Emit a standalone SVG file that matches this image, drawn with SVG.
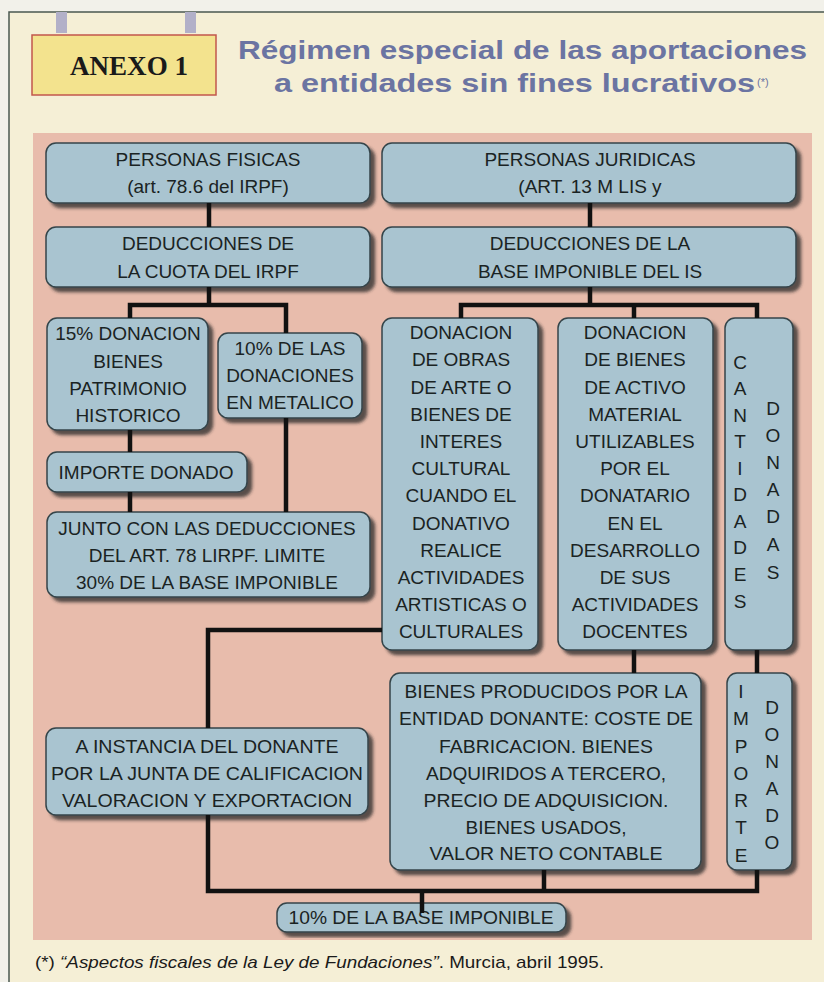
<svg xmlns="http://www.w3.org/2000/svg" width="824" height="982" viewBox="0 0 824 982">
<style>
.node rect.box{fill:#a9c4d0;stroke:#34444a;stroke-width:1.5;filter:url(#sh)}
.t{font-family:"Liberation Sans",Arial,sans-serif;font-size:19px;fill:#1a2323;text-anchor:middle}
.v{font-family:"Liberation Sans",Arial,sans-serif;font-size:19px;fill:#1a2323;text-anchor:middle}
.c{stroke:#111;stroke-width:4.5;fill:none;stroke-linecap:butt;stroke-linejoin:miter}
</style>
<defs>
<filter id="sh" x="-10%" y="-10%" width="130%" height="130%">
<feDropShadow dx="4.5" dy="4.5" stdDeviation="1.5" flood-color="#2a2a2a" flood-opacity="0.75"/>
</filter>
</defs>
<rect x="0" y="0" width="824" height="982" fill="#f2f1ea"/>
<rect x="9" y="12" width="830" height="990" fill="#f5efd6" stroke="#4a5850" stroke-width="1.5"/>
<rect x="56" y="12" width="11" height="21" fill="#b2b0c8"/>
<rect x="185" y="12" width="11" height="21" fill="#b2b0c8"/>
<g id="anexo">
<rect x="32" y="35" width="184" height="60" fill="#f3e38e" stroke="#c2574c" stroke-width="1.5"/>
<text x="129" y="75" font-family="Liberation Serif,'Times New Roman',serif" font-weight="bold" font-size="27" fill="#1a1a1a" text-anchor="middle" textLength="118" lengthAdjust="spacingAndGlyphs">ANEXO 1</text>
</g>
<g id="title" font-family="Liberation Sans,Arial,sans-serif" font-weight="bold" fill="#6b74a2">
<text x="238" y="59" font-size="26" textLength="569" lengthAdjust="spacingAndGlyphs">Régimen especial de las aportaciones</text>
<text x="274" y="92" font-size="26" textLength="481" lengthAdjust="spacingAndGlyphs">a entidades sin fines lucrativos</text>
<text x="757" y="86" font-size="11" font-weight="normal">(*)</text>
</g>
<rect x="33" y="133" width="779" height="807" fill="#e8bcac"/>
<g id="n1" class="node"><rect class="box" x="46" y="143" width="324" height="60" rx="10"/>
<text class="t" x="208" y="166">PERSONAS FISICAS</text><text class="t" x="208" y="193">(art. 78.6 del IRPF)</text></g>
<g id="n2" class="node"><rect class="box" x="382" y="143" width="414" height="60" rx="10"/>
<text class="t" x="590" y="166">PERSONAS JURIDICAS</text><text class="t" x="590" y="193">(ART. 13 M LIS y</text></g>
<g id="n3" class="node"><rect class="box" x="46" y="227" width="324" height="60" rx="10"/>
<text class="t" x="208" y="250">DEDUCCIONES DE</text><text class="t" x="208" y="278">LA CUOTA DEL IRPF</text></g>
<g id="n4" class="node"><rect class="box" x="382" y="227" width="414" height="60" rx="10"/>
<text class="t" x="590" y="250">DEDUCCIONES DE LA</text><text class="t" x="590" y="278">BASE IMPONIBLE DEL IS</text></g>
<g id="n5" class="node"><rect class="box" x="47" y="318" width="161" height="112" rx="10"/>
<text class="t" x="128" y="340">15% DONACION</text><text class="t" x="128" y="368">BIENES</text><text class="t" x="128" y="395">PATRIMONIO</text><text class="t" x="128" y="422">HISTORICO</text></g>
<g id="n6" class="node"><rect class="box" x="218" y="333" width="144" height="85" rx="10"/>
<text class="t" x="290" y="355">10% DE LAS</text><text class="t" x="290" y="382">DONACIONES</text><text class="t" x="290" y="409">EN METALICO</text></g>
<g id="n7" class="node"><rect class="box" x="47" y="452" width="200" height="40" rx="10"/>
<text class="t" x="146" y="479">IMPORTE DONADO</text></g>
<g id="n8" class="node"><rect class="box" x="47" y="512" width="323" height="85" rx="10"/>
<text class="t" x="207" y="535">JUNTO CON LAS DEDUCCIONES</text><text class="t" x="207" y="562">DEL ART. 78 LIRPF. LIMITE</text><text class="t" x="207" y="589">30% DE LA BASE IMPONIBLE</text></g>
<g id="n9" class="node"><rect class="box" x="382" y="318" width="156" height="332" rx="10"/>
<text class="t" x="461" y="339">DONACION</text><text class="t" x="461" y="366">DE OBRAS</text><text class="t" x="461" y="394">DE ARTE O</text><text class="t" x="461" y="421">BIENES DE</text><text class="t" x="461" y="448">INTERES</text><text class="t" x="461" y="475">CULTURAL</text><text class="t" x="461" y="502">CUANDO EL</text><text class="t" x="461" y="530">DONATIVO</text><text class="t" x="461" y="557">REALICE</text><text class="t" x="461" y="584">ACTIVIDADES</text><text class="t" x="461" y="611">ARTISTICAS O</text><text class="t" x="461" y="638">CULTURALES</text></g>
<g id="n10" class="node"><rect class="box" x="558" y="318" width="155" height="332" rx="10"/>
<text class="t" x="635" y="339">DONACION</text><text class="t" x="635" y="366">DE BIENES</text><text class="t" x="635" y="394">DE ACTIVO</text><text class="t" x="635" y="421">MATERIAL</text><text class="t" x="635" y="448">UTILIZABLES</text><text class="t" x="635" y="475">POR EL</text><text class="t" x="635" y="502">DONATARIO</text><text class="t" x="635" y="530">EN EL</text><text class="t" x="635" y="557">DESARROLLO</text><text class="t" x="635" y="584">DE SUS</text><text class="t" x="635" y="611">ACTIVIDADES</text><text class="t" x="635" y="638">DOCENTES</text></g>
<g id="n11" class="node"><rect class="box" x="725" y="318" width="68" height="332" rx="10"/>
<text class="v" x="740" y="369">C</text><text class="v" x="740" y="395">A</text><text class="v" x="740" y="422">N</text><text class="v" x="740" y="448">T</text><text class="v" x="740" y="475">I</text><text class="v" x="740" y="501">D</text><text class="v" x="740" y="528">A</text><text class="v" x="740" y="554">D</text><text class="v" x="740" y="581">E</text><text class="v" x="740" y="608">S</text>
<text class="v" x="773" y="415">D</text><text class="v" x="773" y="442">O</text><text class="v" x="773" y="469">N</text><text class="v" x="773" y="496">A</text><text class="v" x="773" y="523">D</text><text class="v" x="773" y="551">A</text><text class="v" x="773" y="579">S</text></g>
<g id="n12" class="node"><rect class="box" x="46" y="728" width="322" height="87" rx="10"/>
<text class="t" x="207" y="753" textLength="263" lengthAdjust="spacingAndGlyphs">A INSTANCIA DEL DONANTE</text><text class="t" x="207" y="780" textLength="312" lengthAdjust="spacingAndGlyphs">POR LA JUNTA DE CALIFICACION</text><text class="t" x="207" y="807" textLength="290" lengthAdjust="spacingAndGlyphs">VALORACION Y EXPORTACION</text></g>
<g id="n13" class="node"><rect class="box" x="390" y="673" width="311" height="197" rx="10"/>
<text class="t" x="546" y="698" textLength="283" lengthAdjust="spacingAndGlyphs">BIENES PRODUCIDOS POR LA</text><text class="t" x="546" y="725" textLength="294" lengthAdjust="spacingAndGlyphs">ENTIDAD DONANTE: COSTE DE</text><text class="t" x="546" y="753" textLength="214" lengthAdjust="spacingAndGlyphs">FABRICACION. BIENES</text><text class="t" x="546" y="780" textLength="240" lengthAdjust="spacingAndGlyphs">ADQUIRIDOS A TERCERO,</text><text class="t" x="546" y="807" textLength="245" lengthAdjust="spacingAndGlyphs">PRECIO DE ADQUISICION.</text><text class="t" x="546" y="834" textLength="161" lengthAdjust="spacingAndGlyphs">BIENES USADOS,</text><text class="t" x="546" y="860" textLength="233" lengthAdjust="spacingAndGlyphs">VALOR NETO CONTABLE</text></g>
<g id="n14" class="node"><rect class="box" x="727" y="673" width="65" height="197" rx="10"/>
<text class="v" x="741" y="698">I</text><text class="v" x="741" y="725">M</text><text class="v" x="741" y="753">P</text><text class="v" x="741" y="780">O</text><text class="v" x="741" y="807">R</text><text class="v" x="741" y="834">T</text><text class="v" x="741" y="862">E</text>
<text class="v" x="772" y="714">D</text><text class="v" x="772" y="741">O</text><text class="v" x="772" y="768">N</text><text class="v" x="772" y="795">A</text><text class="v" x="772" y="822">D</text><text class="v" x="772" y="849">O</text></g>
<g id="n15" class="node"><rect class="box" x="277" y="903" width="289" height="29" rx="10"/>
<text class="t" x="421" y="924" textLength="265" lengthAdjust="spacingAndGlyphs">10% DE LA BASE IMPONIBLE</text></g>
<g id="connectors" class="c">
<line x1="209" y1="203" x2="209" y2="227"/>
<line x1="590" y1="203" x2="590" y2="227"/>
<line x1="209" y1="287" x2="209" y2="305"/>
<polyline points="130,318 130,305 286,305 286,333"/>
<line x1="590" y1="287" x2="590" y2="305"/>
<polyline points="461,318 461,305 757,305 757,318"/>
<line x1="634" y1="305" x2="634" y2="318"/>
<line x1="130" y1="430" x2="130" y2="452"/>
<line x1="130" y1="492" x2="130" y2="512"/>
<line x1="286" y1="418" x2="286" y2="512"/>
<polyline points="382,630 208,630 208,728"/>
<line x1="634" y1="650" x2="634" y2="673"/>
<line x1="757" y1="650" x2="757" y2="673"/>
<polyline points="208,815 208,891 757,891 757,870"/>
<line x1="544" y1="870" x2="544" y2="891"/>
<line x1="422" y1="891" x2="422" y2="913"/>
</g>
<text x="35" y="968" font-family="Liberation Sans,Arial,sans-serif" font-size="17" fill="#1a1a1a" textLength="569" lengthAdjust="spacingAndGlyphs">(*) <tspan font-style="italic">“Aspectos fiscales de la Ley de Fundaciones”</tspan>. Murcia, abril 1995.</text>
</svg>
